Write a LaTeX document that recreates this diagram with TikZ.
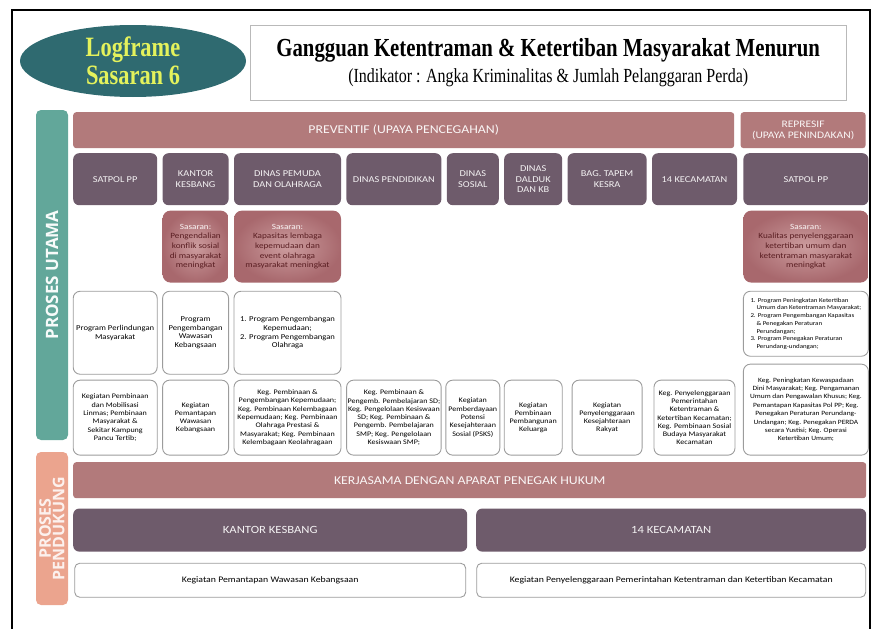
\documentclass[tikz,border=0pt]{standalone}
\usepackage{fontspec}
\setmainfont[FakeStretch=1.15]{Carlito}
\newfontfamily\judulfont[FakeStretch=0.8]{Liberation Serif}
\newfontfamily\sisifont{Open Sans}
\usepackage{xcolor}
\usetikzlibrary{shapes.geometric, positioning}

\definecolor{utamaTeal}{HTML}{62A79A}
\definecolor{dukungSalmon}{HTML}{EBA48E}
\definecolor{upayaRose}{HTML}{B27A7B}
\definecolor{dinasMauve}{HTML}{6E5B6B}
\definecolor{sasaranIn}{HTML}{CC9C9E}
\definecolor{sasaranOut}{HTML}{A8686D}
\definecolor{sasaranText}{HTML}{5A1E22}
\definecolor{boxLine}{HTML}{9C9C9C}
\definecolor{logoFill}{HTML}{2F6A70}
\definecolor{logoText}{HTML}{E4F25C}

\begin{document}
\begin{tikzpicture}[x=1pt, y=-1pt]
% Define styles
\tikzstyle{upaya} = [rectangle, rounded corners=3pt, fill=upayaRose, text=white!93!upayaRose, align=center, inner sep=1pt, font=\fontsize{12}{13}\selectfont]
\tikzstyle{dinas} = [rectangle, rounded corners=6pt, fill=dinasMauve, text=white!92!dinasMauve, minimum height=52pt, align=center, inner sep=1pt, font=\fontsize{9}{10.5}\selectfont]
\tikzstyle{sasaran} = [rectangle, rounded corners=8pt, inner color=sasaranIn, outer color=sasaranOut, text=sasaranText, minimum height=72pt, align=center, inner sep=1pt, font=\fontsize{8}{9.6}\selectfont]
\tikzstyle{program} = [rectangle, rounded corners=7pt, draw=boxLine, fill=white, line width=0.9pt, minimum height=83pt, align=center, inner sep=1pt, font=\fontsize{7.5}{8.8}\selectfont]
\tikzstyle{kegiatan} = [program, minimum height=75pt, font=\fontsize{7}{8.3}\selectfont]
\tikzstyle{sisi} = [rectangle, rounded corners=5pt, rotate=90, minimum height=32pt, align=center, inner sep=0pt]

\useasboundingbox (0,0) rectangle (876,629);

% Frame
\draw [line width=1.2pt] (12,629) -- (12,10) -- (870,10) -- (870,629);

% Title
\node (logo) [ellipse, fill=logoFill, minimum width=226pt, minimum height=72pt, inner sep=0pt, align=center, text=logoText, font=\judulfont\bfseries\fontsize{28}{28}\selectfont] at (133,61) {Logframe\\Sasaran 6};
\node (judul) [rectangle, draw=gray!55, minimum width=596pt, minimum height=75pt, anchor=north west, align=center, font=\judulfont] at (250,25) {{\bfseries\fontsize{26}{28}\selectfont Gangguan Ketentraman \& Ketertiban Masyarakat Menurun}\\[5pt]{\fontsize{20}{22}\selectfont (Indikator : Angka Kriminalitas \& Jumlah Pelanggaran Perda)}};

% Side bars
\node (utama) [sisi, fill=utamaTeal, text=white!95!utamaTeal, minimum width=330pt, font=\sisifont\bfseries\fontsize{17}{18}\selectfont] at (52,275) {PROSES UTAMA};
\node (pendukung) [sisi, fill=dukungSalmon, text=white!85!dukungSalmon, minimum width=153pt, font=\sisifont\bfseries\fontsize{16}{13.5}\selectfont] at (52,528.5) {PROSES\\PENDUKUNG};

% Header
\node (preventif) [upaya, minimum width=661pt, minimum height=36pt, anchor=north west] at (73,112) {PREVENTIF (UPAYA PENCEGAHAN)};
\node (represif) [upaya, minimum width=125pt, minimum height=36pt, right=6pt of preventif, font=\fontsize{10}{11}\selectfont] {REPRESIF\\(UPAYA PENINDAKAN)};

% Dinas
\node (satpolA) [dinas, minimum width=84pt, anchor=north west] at (73,153) {SATPOL PP};
\node (kesbang) [dinas, minimum width=66pt, right=5pt of satpolA] {KANTOR\\KESBANG};
\node (dispora) [dinas, minimum width=107pt, right=5pt of kesbang] {DINAS PEMUDA\\DAN OLAHRAGA};
\node (disdik) [dinas, minimum width=95pt, right=5pt of dispora] {DINAS PENDIDIKAN};
\node (dinsos) [dinas, minimum width=52pt, right=5pt of disdik] {DINAS\\SOSIAL};
\node (dalduk) [dinas, minimum width=58pt, right=5pt of dinsos] {DINAS\\DALDUK\\DAN KB};
\node (tapem) [dinas, minimum width=79pt, right=5pt of dalduk] {BAG. TAPEM\\KESRA};
\node (kecamatan) [dinas, minimum width=85pt, right=5pt of tapem] {14 KECAMATAN};
\node (satpolB) [dinas, minimum width=125pt, right=6pt of kecamatan] {SATPOL PP};

% Sasaran
\node (sasKesbang) [sasaran, minimum width=66pt, below=5pt of kesbang] {\textcolor{white!90!sasaranIn}{Sasaran:}\\Pengendalian\\konflik sosial\\di masyarakat\\meningkat};
\node (sasDispora) [sasaran, minimum width=107pt, below=5pt of dispora] {\textcolor{white!90!sasaranIn}{Sasaran:}\\Kapasitas lembaga\\kepemudaan dan\\event olahraga\\masyarakat meningkat};
\node (sasSatpol) [sasaran, minimum width=125pt, below=5pt of satpolB] {\textcolor{white!90!sasaranIn}{Sasaran:}\\Kualitas penyelenggaraan\\ketertiban umum dan\\ketentraman masyarakat\\meningkat};

% Program
\node (progKesbang) [program, minimum width=66pt, below=8pt of sasKesbang] {Program\\Pengembangan\\Wawasan\\Kebangsaan};
\node (progDispora) [program, minimum width=107pt, below=8pt of sasDispora] {1. Program Pengembangan\\Kepemudaan;\\2. Program Pengembangan\\Olahraga};
\node (progSatpolA) [program, minimum width=84pt, anchor=north] at (satpolA.south |- progKesbang.north) {Program Perlindungan\\Masyarakat};
\node (progSatpolB) [program, minimum width=125pt, minimum height=65pt, below=8pt of sasSatpol, align=left, font=\fontsize{6}{7.7}\selectfont] {1. Program Peningkatan Ketertiban\\\hspace*{6pt}Umum dan Ketentraman Masyarakat;\\2. Program Pengembangan Kapasitas\\\hspace*{6pt}\& Penegakan Peraturan\\\hspace*{6pt}Perundangan;\\3. Program Penegakan Peraturan\\\hspace*{6pt}Perundang-undangan;};

% Kegiatan
\node (kegSatpolA) [kegiatan, minimum width=84pt, below=5pt of progSatpolA] {Kegiatan Pembinaan\\dan Mobilisasi\\Linmas; Pembinaan\\Masyarakat \&\\Sekitar Kampung\\Pancu Tertib;};
\node (kegKesbang) [kegiatan, minimum width=66pt, below=5pt of progKesbang] {Kegiatan\\Pemantapan\\Wawasan\\Kebangsaan};
\node (kegDispora) [kegiatan, minimum width=107pt, below=5pt of progDispora] {Keg. Pembinaan \&\\Pengembangan Kepemudaan;\\Keg. Pembinaan Kelembagaan\\Kepemudaan; Keg. Pembinaan\\Olahraga Prestasi \&\\Masyarakat; Keg. Pembinaan\\Kelembagaan Keolahragaan};
\node (kegDisdik) [kegiatan, minimum width=93pt, anchor=north] at (disdik.south |- kegKesbang.north) {Keg. Pembinaan \&\\Pengemb. Pembelajaran SD;\\Keg. Pengelolaan Kesiswaan\\SD; Keg. Pembinaan \&\\Pengemb. Pembelajaran\\SMP; Keg. Pengelolaan\\Kesiswaan SMP;};
\node (kegDinsos) [kegiatan, minimum width=54pt, anchor=north] at (dinsos.south |- kegKesbang.north) {Kegiatan\\Pemberdayaan\\Potensi\\Kesejahteraan\\Sosial (PSKS)};
\node (kegDalduk) [kegiatan, minimum width=58pt, anchor=north] at (dalduk.south |- kegKesbang.north) {Kegiatan\\Pembinaan\\Pembangunan\\Keluarga};
\node (kegTapem) [kegiatan, minimum width=70pt, anchor=north] at (tapem.south |- kegKesbang.north) {Kegiatan\\Penyelenggaraan\\Kesejahteraan\\Rakyat};
\node (kegKecamatan) [kegiatan, minimum width=81pt, anchor=north] at (kecamatan.south |- kegKesbang.north) {Keg. Penyelenggaraan\\Pemerintahan\\Ketentraman \&\\Ketertiban Kecamatan;\\Keg. Pembinaan Sosial\\Budaya Masyarakat\\Kecamatan};
\node (kegSatpolB) [kegiatan, minimum width=125pt, minimum height=91pt, below=7pt of progSatpolB, font=\fontsize{6.5}{8.4}\selectfont] {Keg. Peningkatan Kewaspadaan\\Dini Masyarakat; Keg. Pengamanan\\Umum dan Pengawalan Khusus; Keg.\\Pemantapan Kapasitas Pol PP; Keg.\\Penegakan Peraturan Perundang-\\Undangan; Keg. Penegakan PERDA\\secara Yustisi; Keg. Operasi\\Ketertiban Umum;};

% Proses pendukung
\node (kerjasama) [upaya, minimum width=793pt, minimum height=36pt, anchor=north west] at (73,462) {KERJASAMA DENGAN APARAT PENEGAK HUKUM};
\node (kesbangB) [dinas, minimum width=394pt, minimum height=43pt, anchor=north west, font=\fontsize{11}{12}\selectfont] at ([yshift=-10pt]kerjasama.south west) {KANTOR KESBANG};
\node (kecamatanB) [dinas, minimum width=390pt, minimum height=43pt, anchor=north east, font=\fontsize{11}{12}\selectfont] at ([yshift=-10pt]kerjasama.south east) {14 KECAMATAN};
\node (kegKesbangB) [program, minimum width=391pt, minimum height=34pt, rounded corners=5pt, below=11pt of kesbangB, font=\fontsize{8.5}{10}\selectfont] {Kegiatan Pemantapan Wawasan Kebangsaan};
\node (kegKecamatanB) [program, minimum width=389pt, minimum height=34pt, rounded corners=5pt, below=11pt of kecamatanB, font=\fontsize{8.5}{10}\selectfont] {Kegiatan Penyelenggaraan Pemerintahan Ketentraman dan Ketertiban Kecamatan};

\end{tikzpicture}
\end{document}
